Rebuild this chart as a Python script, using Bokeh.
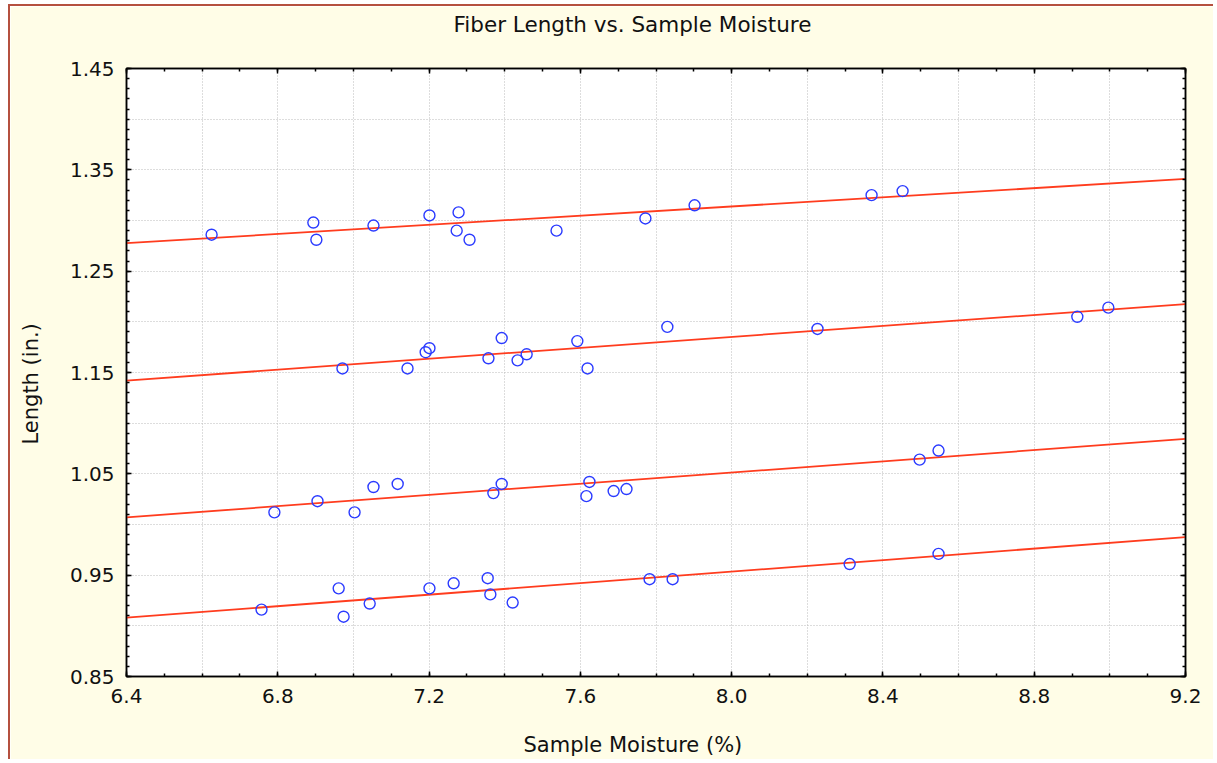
from bokeh.plotting import figure
from bokeh.models import (Title, LinearAxis, FixedTicker, NumeralTickFormatter,
                          Range1d)
from bokeh.embed import file_html
from bokeh.resources import INLINE

# ---- data ----
g1_x = [6.625, 6.894, 6.902, 7.053, 7.201, 7.278, 7.273, 7.307, 7.537, 7.772, 7.902, 8.370, 8.452]
g1_y = [1.286, 1.298, 1.281, 1.295, 1.305, 1.308, 1.290, 1.281, 1.290, 1.302, 1.315, 1.325, 1.329]

g2_x = [6.971, 7.143, 7.191, 7.201, 7.357, 7.392, 7.434, 7.458, 7.592, 7.619, 7.830, 8.227, 8.914, 8.996]
g2_y = [1.154, 1.154, 1.170, 1.174, 1.164, 1.184, 1.162, 1.168, 1.181, 1.154, 1.195, 1.193, 1.205, 1.214]

g3_x = [6.791, 6.905, 7.003, 7.053, 7.117, 7.370, 7.392, 7.616, 7.624, 7.688, 7.722, 8.497, 8.547]
g3_y = [1.012, 1.023, 1.012, 1.037, 1.040, 1.031, 1.040, 1.028, 1.042, 1.033, 1.035, 1.064, 1.073]

g4_x = [6.757, 6.961, 6.974, 7.043, 7.201, 7.265, 7.355, 7.362, 7.421, 7.783, 7.844, 8.312, 8.547]
g4_y = [0.916, 0.937, 0.909, 0.922, 0.937, 0.942, 0.947, 0.931, 0.923, 0.946, 0.946, 0.961, 0.971]

# fitted regression lines (values at the x-range ends)
fit_x = [6.4, 9.2]
fit1 = [1.2776, 1.3410]
fit2 = [1.1420, 1.2175]
fit3 = [1.0070, 1.0845]
fit4 = [0.9080, 0.9876]

x_ticks = [6.4, 6.8, 7.2, 7.6, 8.0, 8.4, 8.8, 9.2]
y_ticks = [0.85, 0.95, 1.05, 1.15, 1.25, 1.35, 1.45]

title_text = "Fiber Length vs. Sample Moisture"
x_label = "Sample Moisture (%)"
y_label = "Length (in.)"

# ---- styling ----
CREAM = "#FFFDE7"
BORDER = "#B5503F"
BLUE = "#2B3BFF"
RED = "#FF3C1E"
FONT = "DejaVu Sans"
TXT = "#111111"

p = figure(width=1205, height=755,
           x_range=Range1d(6.4, 9.2), y_range=Range1d(0.85, 1.45),
           min_border_left=116, min_border_right=30,
           min_border_top=62, min_border_bottom=85,
           output_backend="svg", toolbar_location=None,
           background_fill_color="white", border_fill_color=CREAM)
p.styles = {"margin-left": "8px", "margin-top": "4px",
            "border-left": "2px solid " + BORDER, "border-top": "2px solid " + BORDER}
p.outline_line_color = "black"
p.outline_line_width = 1.5

p.title.text = title_text
p.title.align = "left"
p.title.offset = 327
p.title.standoff = 0
p.title.text_font = FONT
p.title.text_font_size = "21.5px"
p.title.text_font_style = "normal"
p.title.text_color = TXT

x_minor = [round(6.4 + 0.1 * i, 2) for i in range(29)]
y_minor = [round(0.85 + 0.01 * i, 2) for i in range(61)]
x_grid = [round(6.6 + 0.2 * i, 2) for i in range(13)]
y_grid = [round(0.90 + 0.05 * i, 2) for i in range(11)]

def style_axis(ax, ticks, show_labels):
    ax.axis_line_color = "black"
    ax.axis_line_width = 1.5
    ax.major_tick_in = 5
    ax.major_tick_out = 0
    ax.minor_tick_in = 3
    ax.minor_tick_out = 0
    ax.major_tick_line_color = "black"
    ax.minor_tick_line_color = "black"
    ax.major_tick_line_width = 1.5
    ax.minor_tick_line_width = 1.5
    if show_labels:
        ax.major_label_text_font = FONT
        ax.major_label_text_font_size = "20px"
        ax.major_label_text_color = TXT
        ax.major_label_standoff = 12
    else:
        ax.major_label_overrides = {t: "" for t in ticks}
        ax.major_label_text_font_size = "1px"
        ax.major_label_standoff = 0

def spacer_axis(ticks, gap):
    # an axis with nothing visible; its (invisible) outward ticks reserve space
    ax = LinearAxis(ticker=FixedTicker(ticks=ticks, minor_ticks=[]))
    ax.axis_line_color = None
    ax.major_tick_line_color = None
    ax.minor_tick_line_color = None
    ax.major_tick_in = 0
    ax.major_tick_out = gap
    ax.minor_tick_in = 0
    ax.minor_tick_out = 0
    ax.major_label_overrides = {t: "" for t in ticks}
    ax.major_label_text_font_size = "1px"
    ax.major_label_standoff = 0
    return ax

p.xaxis.ticker = FixedTicker(ticks=x_ticks, minor_ticks=x_minor)
p.yaxis.ticker = FixedTicker(ticks=y_ticks, minor_ticks=y_minor)
p.xaxis.formatter = NumeralTickFormatter(format="0.0")
p.yaxis.formatter = NumeralTickFormatter(format="0.00")
style_axis(p.xaxis[0], x_ticks, True)
style_axis(p.yaxis[0], y_ticks, True)

top_ax = LinearAxis(ticker=FixedTicker(ticks=x_ticks, minor_ticks=x_minor))
right_ax = LinearAxis(ticker=FixedTicker(ticks=y_ticks, minor_ticks=y_minor))
style_axis(top_ax, x_ticks, False)
style_axis(right_ax, y_ticks, False)
p.add_layout(top_ax, "above")
p.add_layout(right_ax, "right")

# invisible spacers push the titles outward
p.add_layout(spacer_axis(x_ticks, 32), "above")
p.add_layout(spacer_axis(x_ticks, 25), "below")
p.add_layout(spacer_axis(y_ticks, 24), "left")

p.add_layout(Title(text=x_label, align="left", offset=397, standoff=0,
                   text_font=FONT, text_font_size="21px",
                   text_font_style="normal", text_color=TXT), "below")
p.add_layout(Title(text=y_label, align="left", offset=232, standoff=0,
                   text_font=FONT, text_font_size="21px",
                   text_font_style="normal", text_color=TXT), "left")

p.xgrid.ticker = FixedTicker(ticks=x_grid)
p.ygrid.ticker = FixedTicker(ticks=y_grid)
for g in (p.xgrid[0], p.ygrid[0]):
    g.grid_line_color = "#BBBBBB"
    g.grid_line_dash = "1 2"
    g.grid_line_width = 1

for fy in (fit1, fit2, fit3, fit4):
    p.line(fit_x, fy, line_color=RED, line_width=1.8)

for gx, gy in ((g1_x, g1_y), (g2_x, g2_y), (g3_x, g3_y), (g4_x, g4_y)):
    p.scatter(gx, gy, marker="circle", size=11, fill_color=None,
              line_color=BLUE, line_width=1.4)

open("out.html", "w").write(file_html(p, INLINE))
